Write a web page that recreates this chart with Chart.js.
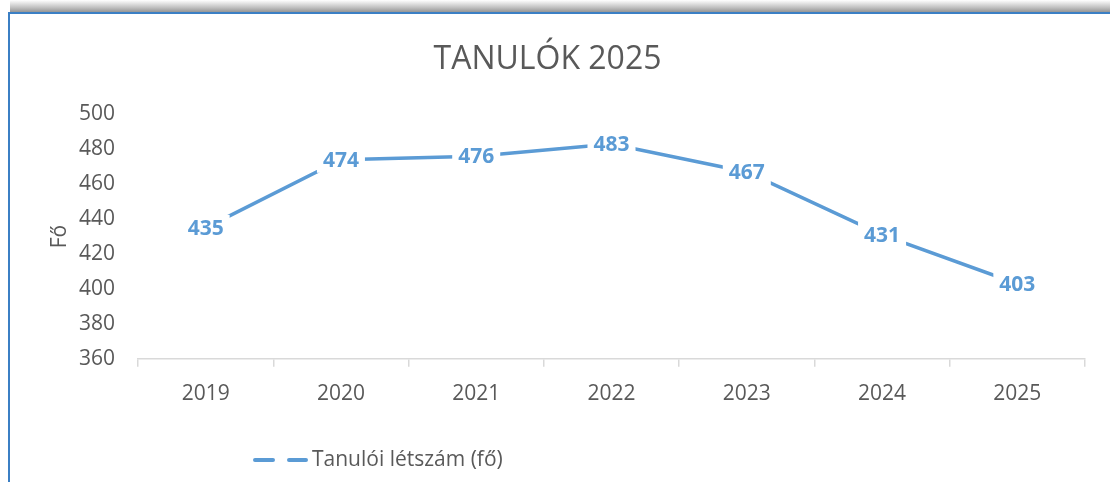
<!DOCTYPE html>
<html>
<head>
<meta charset="utf-8">
<script src="https://cdn.jsdelivr.net/npm/chart.js@4/dist/chart.umd.min.js"></script>
<style>
  html, body { margin: 0; padding: 0; background: #fff; }
  #wrap { position: relative; width: 1110px; height: 482px; overflow: hidden; }
  #chart { position: absolute; left: 0; top: 0; }
  .shade { position: absolute; left: 10px; right: 0; top: 0; height: 12px;
    background: linear-gradient(to bottom, rgba(255,255,255,1) 0%, rgba(200,200,200,1) 55%, rgba(150,150,150,1) 100%); }
  .topline { position: absolute; left: 8px; right: 0; top: 12px; height: 2px; background: #3b7fc4; }
  .leftline { position: absolute; left: 8px; top: 12px; width: 2px; bottom: 0; background: #3b7fc4; }
</style>
</head>
<body>
<div id="wrap">
  <canvas id="chart" width="1110" height="482"></canvas>
  <div class="shade"></div>
  <div class="topline"></div>
  <div class="leftline"></div>
</div>
<script>
  const years = ["2019", "2020", "2021", "2022", "2023", "2024", "2025"];
  const students = [435, 474, 476, 483, 467, 431, 403];
  const yTicks = { min: 360, max: 500, step: 20 };
  const seriesName = "Tanulói létszám (fő)";
  const chartTitle = "TANULÓK 2025";
  const yTitle = "Fő";

  const blue = "#5b9bd5";
  const grey = "#595959";
  const font = "'Open Sans', sans-serif";

  // labels sit on the points, white box hides the line behind them
  const pointLabels = {
    id: "pointLabels",
    afterDatasetsDraw(chart) {
      const ctx = chart.ctx;
      const meta = chart.getDatasetMeta(0);
      const vals = chart.data.datasets[0].data;
      ctx.save();
      ctx.font = "bold 21px " + font;
      ctx.textAlign = "center";
      ctx.textBaseline = "middle";
      meta.data.forEach((pt, i) => {
        const txt = String(vals[i]);
        const w = ctx.measureText(txt).width + 12;
        ctx.fillStyle = "#fff";
        ctx.fillRect(pt.x - w / 2, pt.y - 13, w, 26);
        ctx.fillStyle = blue;
        ctx.fillText(txt, pt.x, pt.y + 1);
      });
      ctx.restore();
    }
  };

  // legend drawn by hand so it can sit left of centre like the original
  const bottomLegend = {
    id: "bottomLegend",
    afterDraw(chart) {
      const ctx = chart.ctx;
      const y = 460;
      ctx.save();
      ctx.strokeStyle = blue;
      ctx.lineWidth = 4;
      ctx.lineCap = "round";
      ctx.setLineDash([18, 16]);
      ctx.beginPath();
      ctx.moveTo(255, y);
      ctx.lineTo(306, y);
      ctx.stroke();
      ctx.setLineDash([]);
      ctx.fillStyle = grey;
      ctx.font = "21px " + font;
      ctx.textBaseline = "middle";
      ctx.fillText(seriesName, 312, y);
      ctx.restore();
    }
  };

  new Chart(document.getElementById("chart"), {
    type: "line",
    data: {
      labels: years,
      datasets: [{
        label: seriesName,
        data: students,
        borderColor: blue,
        borderWidth: 3.5,
        pointRadius: 0,
        tension: 0,
        fill: false
      }]
    },
    options: {
      responsive: false,
      animation: false,
      layout: { padding: { left: 10, right: 25, top: 14, bottom: 60 } },
      scales: {
        x: {
          offset: true,
          grid: { offset: true, drawOnChartArea: false, color: "#d9d9d9", tickLength: 8, lineWidth: 1.5 },
          border: { color: "#d9d9d9", width: 1.5 },
          ticks: { color: grey, font: { family: font, size: 21 }, padding: 15 }
        },
        y: {
          min: yTicks.min,
          max: yTicks.max,
          afterFit(scale) { scale.width = 128; },
          grid: { display: false, drawTicks: false },
          border: { display: false },
          ticks: { stepSize: yTicks.step, color: grey, font: { family: font, size: 21 }, padding: 23 },
          title: { display: true, text: yTitle, color: grey, font: { family: font, size: 21 }, padding: { top: 37, bottom: 0 } }
        }
      },
      plugins: {
        legend: { display: false },
        tooltip: { enabled: false },
        title: {
          display: true,
          text: chartTitle,
          color: grey,
          font: { family: font, size: 32, weight: "normal" },
          padding: { top: 27, bottom: 35 }
        }
      }
    },
    plugins: [pointLabels, bottomLegend]
  });
</script>
</body>
</html>
